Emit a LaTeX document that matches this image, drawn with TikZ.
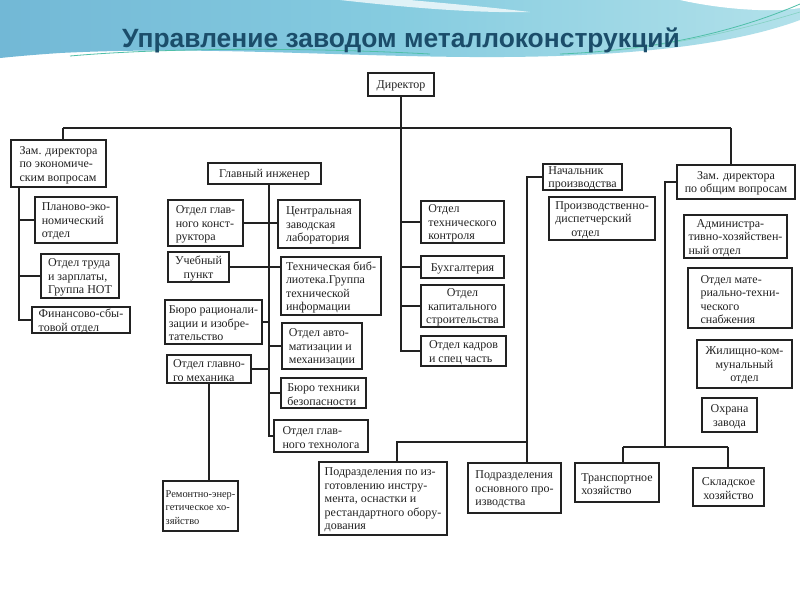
\documentclass[tikz,border=0pt]{standalone}
\usepackage{fontspec}
\setmainfont{Liberation Serif}
\newfontfamily\titlefont{Liberation Sans}
\usetikzlibrary{calc}
\definecolor{titleblue}{HTML}{1B4D6A}
\definecolor{hdrL}{HTML}{72B8D6}
\definecolor{hdrM}{HTML}{86CCE0}
\definecolor{hdrR}{HTML}{B2E1EA}
\definecolor{hdrline}{HTML}{4FBFA8}
\definecolor{ink}{HTML}{222222}
\tikzset{
  orgbox/.style={draw=ink,line width=1.4pt,fill=white,inner sep=0pt},
  boxtext/.style={inner sep=0pt,text=ink,font=\fontsize{12}{13.5}\selectfont},
  smalltext/.style={boxtext,font=\fontsize{10.4}{13.5}\selectfont},
  link/.style={draw=ink,line width=1.4pt}
}
\newcommand{\bx}[7]{%
  \node[orgbox,minimum width={(#4-#2)*1pt},minimum height={(#5-#3)*1pt}] (#1) at ({(#2+#4)/2},{(#3+#5)/2}) {};
  \node[boxtext,align=#6] (#1t) at ([yshift=-1.5pt]#1.center) {#7};}
\begin{document}
\begin{tikzpicture}[x=1pt,y=-1pt]
\useasboundingbox (0,0) rectangle (800,600);
\fill[white] (0,0) rectangle (800,600);
% header
\shade[left color=hdrL, right color=hdrR, middle color=hdrM] (0,0) -- (800,0) -- (800,20) .. controls (730,46) and (620,58) .. (470,57) .. controls (330,56) and (200,46) .. (60,53) .. controls (30,55) and (10,57) .. (0,58) -- cycle;
\fill[white,opacity=0.75] (340,0) .. controls (420,9) and (480,13) .. (530,12) .. controls (480,6) and (430,2) .. (410,0) -- cycle;
\fill[white] (680,0) .. controls (720,9) and (770,13) .. (800,8) -- (800,0) -- cycle;
\draw[hdrline,line width=0.8pt] (70,56) .. controls (160,48) and (300,47) .. (430,54);
\draw[hdrline,line width=0.8pt] (560,54) .. controls (660,50) and (740,30) .. (800,4);
\draw[hdrline!70,line width=0.6pt] (600,52) .. controls (690,44) and (760,24) .. (800,12);
\node[anchor=base,text=titleblue,font=\titlefont\bfseries\fontsize{26.4}{30}\selectfont] (title) at (401,47) {Управление заводом металлоконструкций};

% boxes
\bx{dir}{368}{73}{434}{96}{center}{Директор}
\bx{zek}{11}{140}{106}{187}{left}{Зам. директора\\по экономиче-\\ским вопросам}
\bx{plan}{35}{197}{117}{243}{left}{Планово-эко-\\номический\\отдел}
\bx{trud}{41}{254}{119}{298}{left}{Отдел труда\\и зарплаты,\\Группа НОТ}
\bx{fin}{32}{307}{130}{333}{left}{Финансово-сбы-\\товой отдел}
\bx{gi}{208}{163}{321}{184}{center}{Главный инженер}
\bx{ogk}{168}{200}{243}{246}{left}{Отдел глав-\\ного конст-\\руктора}
\bx{czl}{278}{200}{360}{248}{left}{Центральная\\заводская\\лаборатория}
\bx{uch}{168}{252}{229}{282}{center}{Учебный\\пункт}
\bx{tb}{281}{257}{381}{315}{left}{Техническая биб-\\лиотека.Группа\\технической\\информации}
\bx{bri}{165}{300}{262}{344}{left}{Бюро рационали-\\зации и изобре-\\тательство}
\bx{oam}{282}{323}{362}{369}{left}{Отдел авто-\\матизации и\\механизации}
\bx{ogm}{167}{355}{251}{383}{left}{Отдел главно-\\го механика}
\bx{btb}{281}{378}{366}{408}{left}{Бюро техники\\безопасности}
\bx{ogt}{274}{420}{368}{452}{left}{Отдел глав-\\ного технолога}
\node[orgbox,minimum width=75pt,minimum height=50pt] (rem) at (200.5,506) {};
\node[smalltext,align=left] (remt) at ([yshift=-1.5pt]rem.center) {Ремонтно-энер-\\гетическое хо-\\зяйство};
\bx{otk}{421}{201}{504}{243}{left}{Отдел\\технического\\контроля}
\bx{buh}{421}{256}{504}{278}{center}{Бухгалтерия}
\bx{kap}{421}{285}{504}{327}{center}{Отдел\\капитального\\строительства}
\bx{kad}{421}{336}{506}{366}{left}{Отдел кадров\\и спец часть}
\bx{np}{543}{164}{622}{190}{left}{Начальник\\производства}
\bx{pd}{549}{197}{655}{240}{left}{Производственно-\\диспетчерский\\\hspace{16pt}отдел}
\bx{zob}{677}{165}{795}{199}{center}{Зам. директора\\по общим вопросам}
\bx{ahs}{684}{215}{787}{258}{left}{\hspace{8pt}Администра-\\тивно-хозяйствен-\\ный отдел}
\bx{mts}{688}{268}{792}{328}{left}{Отдел мате-\\риально-техни-\\ческого\\снабжения}
\bx{jkh}{697}{340}{792}{388}{center}{Жилищно-ком-\\мунальный\\отдел}
\bx{ohr}{702}{398}{757}{432}{center}{Охрана\\завода}
\bx{pii}{319}{462}{447}{535}{left}{Подразделения по из-\\готовлению инстру-\\мента, оснастки и\\рестандартного обору-\\дования}
\bx{pop}{468}{463}{561}{513}{left}{Подразделения\\основного про-\\изводства}
\bx{tr}{575}{463}{659}{502}{left}{Транспортное\\хозяйство}
\bx{skl}{693}{468}{764}{506}{center}{Складское\\хозяйство}

% junction coordinates
\coordinate (busL) at (63,128);
\coordinate (busR) at (731,128);
\coordinate (zx) at (19,187);
\coordinate (gx) at (269,184);
\coordinate (nv) at (527,442);
\coordinate (pv) at (397,442);
\coordinate (zv) at (665,447);
\coordinate (tv) at (623,447);
\coordinate (sv) at (728,447);

% director and bus
\draw[link] (busL) -- (busR);
\draw[link] (dir.south) -- (dir.south |- kad.west) -- (kad.west);
\draw[link] (busL) -- (busL |- zek.north);
\draw[link] (busR) -- (busR |- zob.north);
\draw[link] (otk.west -| dir.south) -- (otk.west);
\draw[link] (buh.west -| dir.south) -- (buh.west);
\draw[link] (kap.west -| dir.south) -- (kap.west);

% economic deputy
\draw[link] (zx) |- (plan.west);
\draw[link] (zx) |- (trud.west);
\draw[link] (zx) |- (fin.west);

% chief engineer
\draw[link] (gx) |- (ogt.west);
\draw[link] (ogk.east) -- (ogk.east -| czl.west);
\draw[link] (uch.east) -- (uch.east -| tb.west);
\draw[link] (bri.east) -- (bri.east -| gx);
\draw[link] (oam.west) -- (oam.west -| gx);
\draw[link] (ogm.east) -- (ogm.east -| gx);
\draw[link] (btb.west) -- (btb.west -| gx);
\draw[link] (ogm.south) -- (ogm.south |- rem.north);

% production head
\draw[link] (np.west) -| (nv) -- (nv |- pop.north);
\draw[link] (nv) -- (pv) -- (pv |- pii.north);

% general deputy
\draw[link] (zob.west) -| (zv);
\draw[link] (tv) -- (sv);
\draw[link] (tv) -- (tv |- tr.north);
\draw[link] (sv) -- (sv |- skl.north);
\end{tikzpicture}
\end{document}
